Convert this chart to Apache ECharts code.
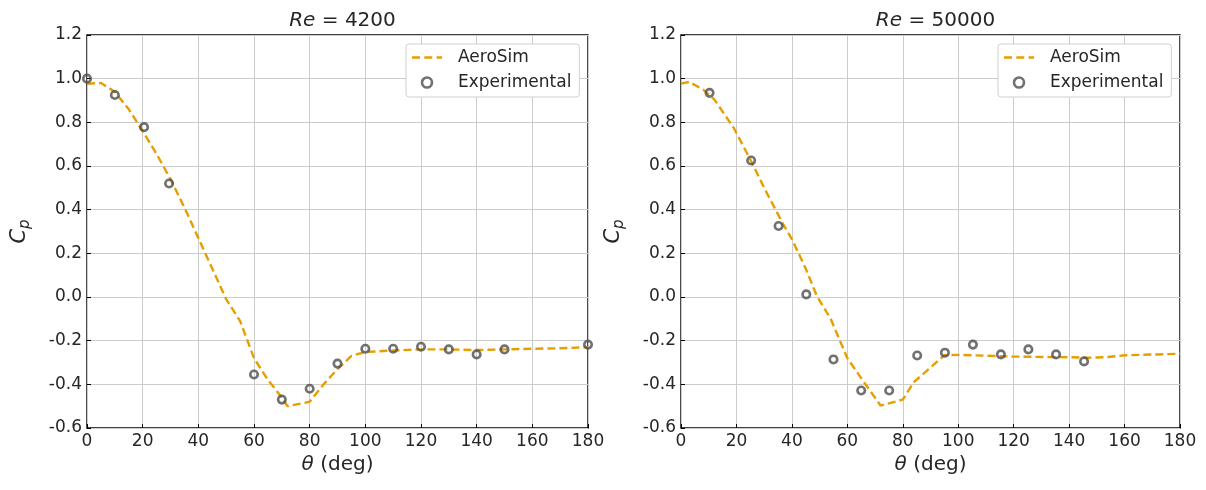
<!DOCTYPE html>
<html>
<head>
<meta charset="utf-8">
<script src="https://cdn.jsdelivr.net/npm/echarts@6/dist/echarts.min.js"></script>
<style>
  html, body { margin: 0; padding: 0; background: #fff; }
  #main { width: 1206px; height: 490px; }
</style>
</head>
<body>
<div id="main"></div>
<script>
// Re = 4200 : simulation curve
const simThetaA = [0, 5, 10, 15, 20, 25, 30, 35, 40, 45, 50, 55, 60, 65, 70, 72, 80, 85, 90, 95, 100, 110, 120, 130, 140, 150, 160, 170, 180]
const simCpA    = [0.977, 0.98, 0.94, 0.86, 0.76, 0.655, 0.54, 0.41, 0.27, 0.13, -0.01, -0.11, -0.28, -0.38, -0.46, -0.5, -0.48, -0.4, -0.33, -0.27, -0.252, -0.245, -0.24, -0.24, -0.243, -0.24, -0.237, -0.235, -0.23]
// Re = 4200 : experiment
const expThetaA = [0, 10, 20.5, 29.5, 60, 70, 80, 90, 100, 110, 120, 130, 140, 150, 180]
const expCpA    = [1.0, 0.925, 0.778, 0.52, -0.355, -0.47, -0.42, -0.305, -0.237, -0.237, -0.228, -0.24, -0.263, -0.24, -0.218]

// Re = 50000 : simulation curve
const simThetaB = [0, 3, 8, 12, 19, 25, 30, 37, 40, 45, 49, 54, 60, 66, 72, 80, 84, 95, 100, 120, 140, 147, 154, 160, 180]
const simCpB    = [0.977, 0.985, 0.95, 0.905, 0.775, 0.63, 0.5, 0.33, 0.265, 0.13, 0.005, -0.1, -0.28, -0.39, -0.497, -0.47, -0.39, -0.267, -0.265, -0.273, -0.276, -0.278, -0.275, -0.267, -0.26]
// Re = 50000 : experiment
const expThetaB = [10.3, 25.3, 35.2, 45.2, 55, 65, 75.1, 85.2, 95.2, 105.3, 115.4, 125.3, 135.3, 145.4]
const expCpB    = [0.935, 0.625, 0.325, 0.012, -0.286, -0.428, -0.428, -0.268, -0.255, -0.218, -0.263, -0.24, -0.263, -0.295]

const titles = ['4200', '50000']
const xTicks = { min: 0, max: 180, interval: 20 }
const yTicks = { min: -0.6, max: 1.2, interval: 0.2 }

const FONT = 'DejaVu Sans'
const TXT = '#262626'
const ORANGE = '#E69F00'
const GREY = '#4d4d4d'

function zip(a, b) {
  let out = []
  for (let i = 0; i < a.length; i++) out.push([a[i], b[i]])
  return out
}

const grids = [
  { left: 87, top: 35, width: 501, height: 393 },
  { left: 681, top: 35, width: 499, height: 393 }
]

let option = {
  animation: false,
  backgroundColor: '#fff',
  textStyle: { fontFamily: FONT },
  title: [],
  legend: [],
  grid: [],
  xAxis: [],
  yAxis: [],
  series: []
}

grids.forEach(function (g, i) {
  option.grid.push({
    left: g.left, top: g.top, width: g.width, height: g.height,
    show: true, borderColor: '#000', borderWidth: 1.4, backgroundColor: 'transparent'
  })
  option.title.push({
    text: '{i|Re} = ' + titles[i],
    left: g.left + g.width / 2,
    textAlign: 'center',
    top: 6,
    textStyle: {
      fontFamily: FONT, fontSize: 20, fontWeight: 'normal', color: TXT,
      rich: { i: { fontFamily: FONT, fontSize: 20, fontStyle: 'italic', color: TXT } }
    }
  })
  option.legend.push({
    orient: 'vertical',
    left: g.left + g.width - 182,
    top: 44,
    backgroundColor: '#fff',
    borderColor: '#d0d0d0',
    borderWidth: 1,
    borderRadius: 3,
    padding: [5, 8, 6, 6],
    itemGap: 8,
    itemWidth: 30,
    itemHeight: 10,
    selectedMode: false,
    textStyle: { fontFamily: FONT, fontSize: 17, color: TXT, padding: [0, 0, 0, 11] },
    data: [
      { name: 'AeroSim', icon: 'path://M0,0 h8 v2.4 h-8 Z M12.3,0 h8 v2.4 h-8 Z M24.6,0 h5.4 v2.4 h-5.4 Z', itemStyle: { color: ORANGE } },
      { name: 'Experimental', icon: 'circle', itemStyle: { color: '#fff', borderColor: GREY, borderWidth: 2.6 } }
    ]
  })
  option.xAxis.push({
    type: 'value', gridIndex: i,
    min: xTicks.min, max: xTicks.max, interval: xTicks.interval,
    name: '{t|θ} (deg)',
    nameLocation: 'middle',
    nameGap: 26,
    nameTextStyle: {
      fontFamily: FONT, fontSize: 20, color: TXT,
      rich: { t: { fontFamily: FONT, fontSize: 20, fontStyle: 'italic', color: TXT } }
    },
    axisLine: { show: false, onZero: false },
    axisTick: { show: true, inside: true, length: 4, lineStyle: { color: '#000', width: 1 } },
    axisLabel: { fontFamily: FONT, fontSize: 17, color: TXT, margin: 5 },
    splitLine: { show: true, lineStyle: { color: '#cccccc', width: 1 } }
  })
  option.yAxis.push({
    type: 'value', gridIndex: i,
    min: yTicks.min, max: yTicks.max, interval: yTicks.interval,
    name: '{c|C}{p|p}',
    nameLocation: 'middle',
    nameGap: 54,
    nameTextStyle: {
      fontFamily: FONT, fontSize: 21, color: TXT,
      rich: {
        c: { fontFamily: FONT, fontSize: 21, fontStyle: 'italic', color: TXT, lineHeight: 26 },
        p: { fontFamily: FONT, fontSize: 15, fontStyle: 'italic', color: TXT, lineHeight: 12, verticalAlign: 'bottom' }
      }
    },
    axisLine: { show: false, onZero: false },
    axisTick: { show: true, inside: true, length: 4, lineStyle: { color: '#000', width: 1 } },
    axisLabel: {
      fontFamily: FONT, fontSize: 17, color: TXT, margin: 5,
      formatter: function (v) { return Math.abs(v) < 1e-9 ? '0.0' : v.toFixed(1) }
    },
    splitLine: { show: true, lineStyle: { color: '#cccccc', width: 1 } }
  })
})

for (let k = 0; k < 2; k++) {
  option.series.push({
    name: 'AeroSim', type: 'line', xAxisIndex: k, yAxisIndex: k,
    data: k == 0 ? zip(simThetaA, simCpA) : zip(simThetaB, simCpB),
    symbol: 'none', color: ORANGE,
    lineStyle: { color: ORANGE, width: 2.4, type: [8, 4] }, z: 3
  })
  option.series.push({
    name: 'Experimental', type: 'scatter', xAxisIndex: k, yAxisIndex: k,
    data: k == 0 ? zip(expThetaA, expCpA) : zip(expThetaB, expCpB),
    symbol: 'circle', symbolSize: 7.5,
    itemStyle: { color: 'rgba(255,255,255,0)', borderColor: GREY, borderWidth: 2.6 }, z: 4
  })
}

const chart = echarts.init(document.getElementById('main'), null, { renderer: 'canvas' })
chart.setOption(option)
</script>
</body>
</html>
